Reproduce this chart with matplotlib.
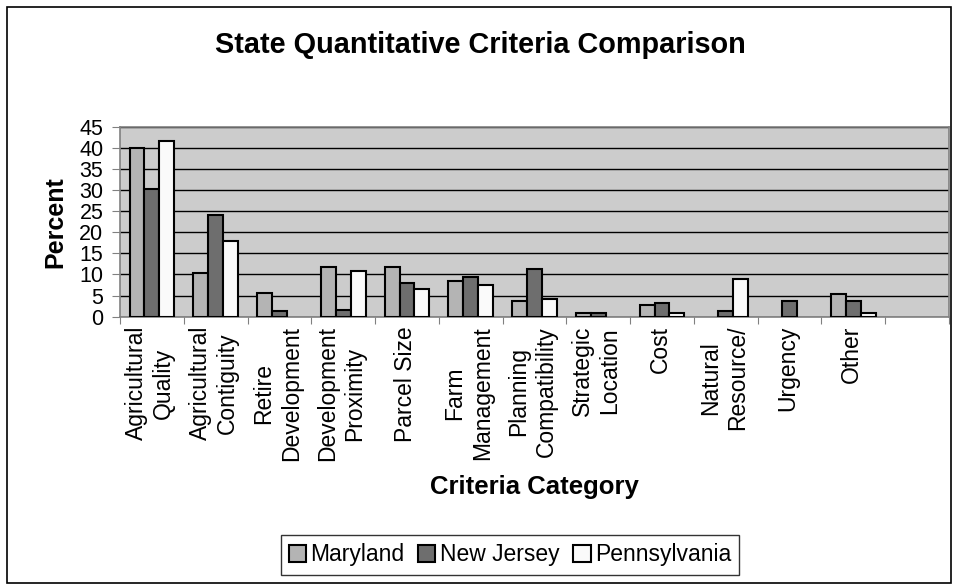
import numpy as np
import matplotlib
matplotlib.use('Agg')
import matplotlib.pyplot as plt
from matplotlib.patches import Rectangle

plt.rcParams['font.family'] = ['Liberation Sans', 'DejaVu Sans']

# Data
categories = ['Agricultural\nQuality', 'Agricultural\nContiguity', 'Retire\nDevelopment',
              'Development\nProximity', 'Parcel Size', 'Farm\nManagement',
              'Planning\nCompatibility', 'Strategic\nLocation', 'Cost',
              'Natural\nResource/', 'Urgency', 'Other', '']
maryland = [40.0, 10.3, 5.5, 11.8, 11.8, 8.5, 3.7, 0.9, 2.8, 0.0, 0.0, 5.3, 0.0]
new_jersey = [30.2, 24.1, 1.3, 1.7, 8.0, 9.4, 11.3, 0.9, 3.2, 1.4, 3.7, 3.7, 0.0]
pennsylvania = [41.7, 17.9, 0.0, 10.8, 6.5, 7.5, 4.2, 0.0, 0.9, 8.9, 0.0, 0.9, 0.0]
yticks = [0, 5, 10, 15, 20, 25, 30, 35, 40, 45]

W, H = 959, 586
fig = plt.figure(figsize=(W / 100, H / 100), dpi=100)
fig.patch.set_facecolor('white')

# outer chart border
fig.add_artist(Rectangle((7 / W, 1 - 583 / H), (951 - 7) / W, (583 - 7) / H,
                         transform=fig.transFigure, fill=False, edgecolor='black', linewidth=1.2))

ax = fig.add_axes([120 / W, 1 - 316.7 / H, (949 - 120) / W, (316.7 - 126.7) / H])
ax.set_facecolor('#cccccc')

n = len(categories)
x = np.arange(n) + 0.5
bw = 0.234
series = [(maryland, '#b4b4b4', 'Maryland'),
          (new_jersey, '#6e6e6e', 'New Jersey'),
          (pennsylvania, '#fafafa', 'Pennsylvania')]
handles = []
for k, (vals, col, lab) in enumerate(series):
    vals = np.array(vals)
    m = vals > 0
    b = ax.bar(x[m] + (k - 1) * bw, vals[m], width=bw, color=col,
               edgecolor='black', linewidth=1.5, zorder=3, label=lab)
    handles.append(b)

ax.set_xlim(0, n)
ax.set_ylim(0, 45)
ax.set_yticks(yticks)
ax.yaxis.grid(True, color='black', linewidth=1.0, zorder=1)
ax.set_axisbelow(True)
ax.tick_params(axis='y', labelsize=15.5, length=6, color='#808080', pad=6)
ax.set_xticks(np.arange(n + 1))
ax.set_xticklabels([])
ax.tick_params(axis='x', length=5, color='#808080')
for s in ax.spines.values():
    s.set_color('#808080')
    s.set_linewidth(1.2)

for xi, lab in zip(x, categories):
    ax.text(xi - 0.03, -2.2, lab, rotation=90, ha='center', va='top',
            multialignment='center', fontsize=16.5, linespacing=1.25, clip_on=False)

fig.text(480 / W, 1 - 45 / H, 'State Quantitative Criteria Comparison',
         ha='center', va='center', fontsize=20.8, fontweight='bold')
fig.text(55 / W, 1 - 222 / H, 'Percent', rotation=90, ha='center', va='center',
         fontsize=18, fontweight='bold')
fig.text(534 / W, 1 - 487 / H, 'Criteria Category', ha='center', va='center',
         fontsize=18.5, fontweight='bold')

leg = fig.legend(handles=handles, loc='center', bbox_to_anchor=(510 / W, 1 - 555 / H),
                 ncol=3, fontsize=16.5, frameon=True, fancybox=False, edgecolor='black',
                 handlelength=0.75, handleheight=0.75, handletextpad=0.2,
                 columnspacing=0.6, borderpad=0.35)
leg.get_frame().set_linewidth(1.0)

fig.savefig('out.png', dpi=100)
